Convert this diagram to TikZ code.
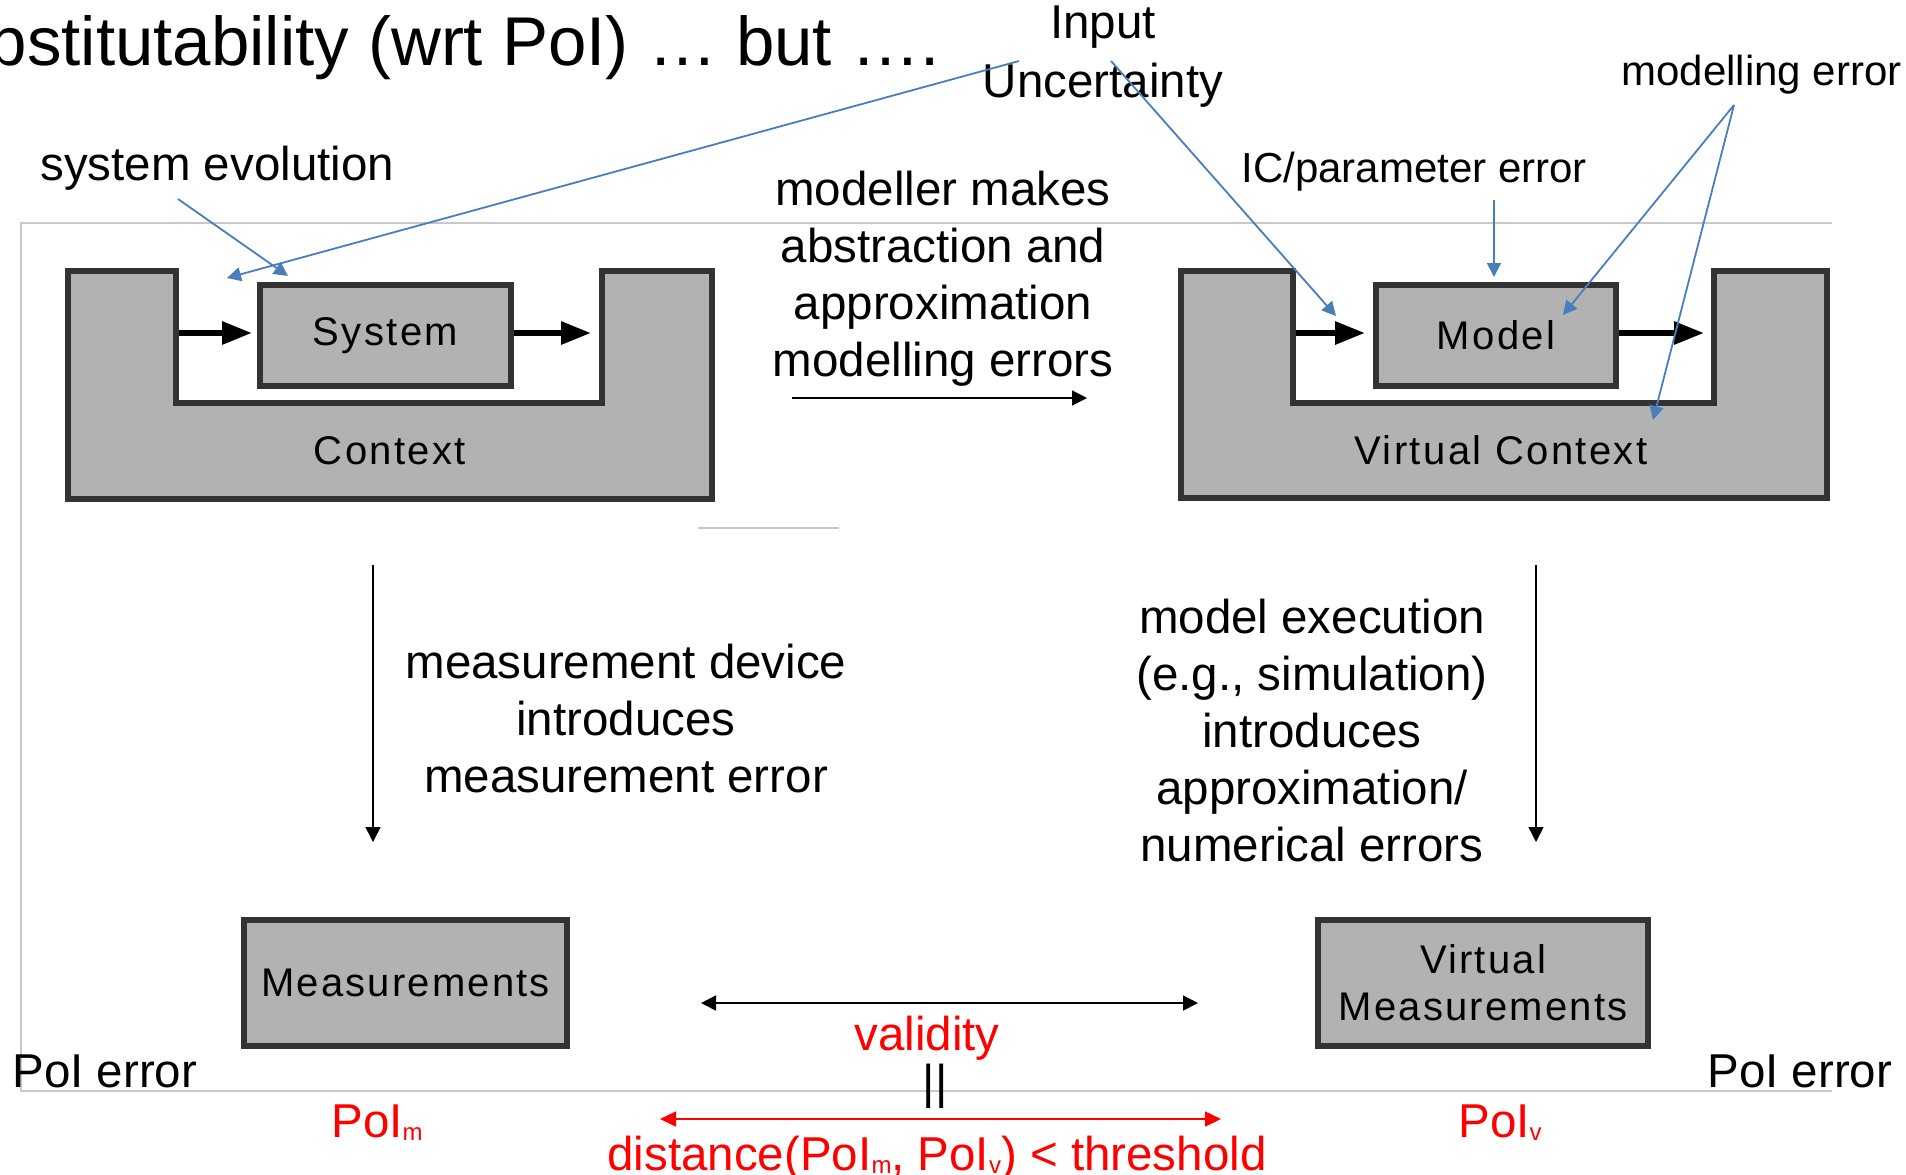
\documentclass[tikz,border=0pt]{standalone}
\usepackage{fontspec}
\setmainfont{Liberation Sans}
\newfontfamily\boxfont[LetterSpace=6]{Liberation Sans}
\newfontfamily\measfont[LetterSpace=5.5]{Liberation Sans}
\usetikzlibrary{arrows.meta}
\definecolor{boxfill}{HTML}{B2B2B2}
\definecolor{boxline}{HTML}{333333}
\definecolor{arrowblue}{HTML}{4A7EBB}
\definecolor{framegray}{HTML}{C8C8C8}
\definecolor{pured}{HTML}{FF0000}
\newcommand\mlines[1]{\begin{tabular}[t]{@{}c@{}}#1\end{tabular}}
\newcommand\subsc[1]{{\fontsize{12}{12}\selectfont\raisebox{-1.5pt}{#1}}}
\begin{document}
\begin{tikzpicture}[x=0.5pt,y=-0.5pt,
  maintext/.style={font=\fontsize{23.75}{28.6}\selectfont, inner sep=0pt},
  smalltext/.style={font=\fontsize{21}{25}\selectfont, inner sep=0pt},
  titletext/.style={font=\fontsize{34.5}{40}\selectfont, inner sep=0pt},
  redtext/.style={maintext, text=pured},
  ushape/.style={draw=boxline, fill=boxfill, line width=3pt},
  boxnode/.style={draw=boxline, fill=boxfill, line width=3pt, inner sep=0pt, align=center},
  ulabel/.style={inner sep=0pt, font=\boxfont\fontsize{20}{23.5}\selectfont},
  thickarrow/.style={line width=3pt, -{Triangle[length=15pt,width=11pt]}},
  thinarrow/.style={line width=0.75pt, -{Triangle[length=7.5pt,width=7.5pt]}},
  thindouble/.style={line width=0.75pt, {Triangle[length=7.5pt,width=7.5pt]}-{Triangle[length=7.5pt,width=7.5pt]}},
  bluearrow/.style={draw=arrowblue, line width=0.9pt, -{Triangle[length=7pt,width=7pt]}},
  reddouble/.style={draw=pured, line width=0.8pt, {Triangle[length=8pt,width=7.5pt]}-{Triangle[length=8pt,width=7.5pt]}},
  frameline/.style={draw=framegray, line width=0.75pt}
]
\useasboundingbox (0,0) rectangle (1906,1174);
\clip (0,0) rectangle (1906,1174);

% light frame
\draw[frameline] (1832,223) -- (21,223) -- (21,1091) -- (1832,1091);
\draw[frameline] (698,528) -- (839,528);

% title
\node[titletext, anchor=base east] (title) at (940,65) {Substitutability (wrt PoI) … but ….};

% left U-shape (Context)
\draw[ushape] (68,271) -- (176,271) -- (176,403) -- (602,403) -- (602,271) -- (712,271) -- (712,499) -- (68,499) -- cycle;
\node[ulabel, anchor=base] (ctx) at (390,464) {Context};
\node[boxnode, minimum width=125.5pt, minimum height=50.5pt, font=\boxfont\fontsize{20}{23.5}\selectfont] (sys) at (385.5,335.5) {System};
\coordinate (ctxLin) at (179,333);
\coordinate (ctxRin) at (597,333);
\draw[thickarrow, shorten >=2.5pt] (ctxLin) -- (ctxLin -| sys.west);
\draw[thickarrow, shorten >=3pt] (sys.east |- ctxRin) -- (ctxRin);

% right U-shape (Virtual Context)
\draw[ushape] (1181,271) -- (1293,271) -- (1293,403) -- (1714,403) -- (1714,271) -- (1827,271) -- (1827,498) -- (1181,498) -- cycle;
\node[ulabel, anchor=base] (vctx) at (1501,464) {Virtual Context};
\node[boxnode, minimum width=120pt, minimum height=50.5pt, font=\boxfont\fontsize{20}{23.5}\selectfont] (model) at (1496,335.5) {Model};
\coordinate (vctxLin) at (1296,333);
\coordinate (vctxRin) at (1711,333);
\draw[thickarrow, shorten >=4pt] (vctxLin) -- (vctxLin -| model.west);
\draw[thickarrow, shorten >=3.5pt] (model.east |- vctxRin) -- (vctxRin);

% measurement boxes
\node[boxnode, minimum width=161.5pt, minimum height=63pt, font=\measfont\fontsize{20}{23.5}\selectfont] (meas) at (405.5,983) {Measurements};
\node[boxnode, minimum width=165pt, minimum height=63pt, font=\measfont\fontsize{20}{23.5}\selectfont] (vmeas) at (1483,983) {Virtual\\Measurements};

% texts
\node[maintext, anchor=base west] (sysevo) at (40,180) {system evolution};
\node[maintext, anchor=base] (modeller) at (943,205) {\mlines{modeller makes\\abstraction and\\approximation\\modelling errors}};
\node[maintext, anchor=base] (input) at (1103,38) {\mlines{Input\\[1pt]Uncertainty}};
\node[smalltext, anchor=base west] (icerr) at (1241,182) {IC/parameter error};
\node[smalltext, anchor=base west] (moderr) at (1621,85) {modelling error};
\node[maintext, anchor=base] (measdev) at (626,678) {\mlines{measurement device\\introduces\\measurement error}};
\node[maintext, anchor=base] (modexec) at (1312,633) {\mlines{model execution\\(e.g., simulation)\\introduces\\approximation/\\numerical errors}};
\node[maintext, anchor=base west] (poierrL) at (12,1087) {PoI error};
\node[maintext, anchor=base west] (poierrR) at (1707,1087) {PoI error};
\node[redtext, anchor=base] (validity) at (927,1050) {validity};
\node[maintext, anchor=base] (equal) at (935,1098) {||};
\node[redtext, anchor=base] (dist) at (937,1170) {distance(PoI\subsc{m}, PoI\subsc{v}) < threshold};
\node[redtext, anchor=base] (poim) at (377,1137) {PoI\subsc{m}};
\node[redtext, anchor=base] (poiv) at (1500,1137) {PoI\subsc{v}};

% thin black arrows
\coordinate (absL) at (792,398);
\coordinate (absR) at (1087,398);
\draw[thinarrow] (absL) -- (absR);
\coordinate (measTop) at (373,565);
\coordinate (measBot) at (373,842);
\draw[thinarrow] (measTop) -- (measBot);
\coordinate (execTop) at (1536,565);
\coordinate (execBot) at (1536,842);
\draw[thinarrow] (execTop) -- (execBot);
\coordinate (valL) at (701,1003);
\coordinate (valR) at (1198,1003);
\draw[thindouble] (valL) -- (valR);
\coordinate (distL) at (660,1119);
\coordinate (distR) at (1221,1119);
\draw[reddouble] (distL) -- (distR);

% blue annotation arrows
\coordinate (seFrom) at (178,199);
\coordinate (seTo) at (288,276);
\draw[bluearrow] (seFrom) -- (seTo);
\coordinate (inFromA) at (1019,61);
\coordinate (inToA) at (227,278);
\draw[bluearrow] (inFromA) -- (inToA);
\coordinate (inFromB) at (1111,61);
\coordinate (inToB) at (1336,316);
\draw[bluearrow] (inFromB) -- (inToB);
\coordinate (icFrom) at (1494,200);
\coordinate (icTo) at (1494,277);
\draw[bluearrow] (icFrom) -- (icTo);
\coordinate (meFrom) at (1734,105);
\coordinate (meToA) at (1563,315);
\coordinate (meToB) at (1653,420);
\draw[bluearrow] (meFrom) -- (meToA);
\draw[bluearrow] (meFrom) -- (meToB);
\end{tikzpicture}
\end{document}
